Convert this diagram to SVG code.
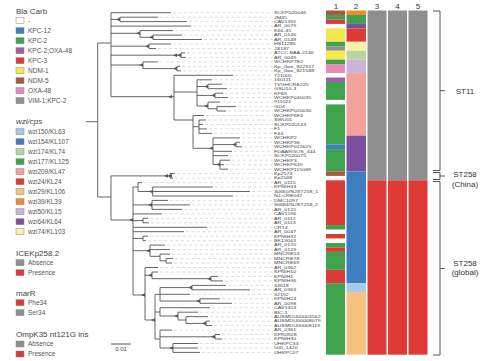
<svg xmlns="http://www.w3.org/2000/svg" xmlns:xlink="http://www.w3.org/1999/xlink" width="483" height="361" viewBox="0 0 483 361">
<style>
text{font-family:"Liberation Sans",Arial,sans-serif}
.hd{font-size:8px;fill:#444}
.it{font-size:6.5px;fill:#555}
.lb{font-size:3.8px;fill:#444}
.ch{font-size:8px;fill:#333;text-anchor:middle}
.br{font-size:8px;fill:#333;text-anchor:middle}
.sw{stroke:#888;stroke-width:0.5}
.tr{fill:none;stroke:#555;stroke-width:0.9}
.ld{fill:none;stroke:#c4c4c4;stroke-width:0.6;stroke-dasharray:3 2.5}
.bk{fill:none;stroke:#555;stroke-width:1}
</style>
<defs>
<path id="nm" d="M-4 0L0 -1.8V1.8Z" fill="#555"/>
</defs>
<rect width="483" height="361" fill="#fff"/>

<g id="legend-bla">
<text class="hd" x="16" y="13.5">Bla Carb</text>
<rect class="sw" x="16" y="17.7" width="8" height="6" fill="#fff"/><text class="it" x="28" y="23">-</text>
<rect class="sw" x="16" y="27.7" width="8" height="6" fill="#3d7ebf"/><text class="it" x="28" y="33">KPC-12</text>
<rect class="sw" x="16" y="37.7" width="8" height="6" fill="#3fa34d"/><text class="it" x="28" y="43">KPC-2</text>
<rect class="sw" x="16" y="47.7" width="8" height="6" fill="#9a5fa6"/><text class="it" x="28" y="53">KPC-2;OXA-48</text>
<rect class="sw" x="16" y="57.7" width="8" height="6" fill="#dc3a34"/><text class="it" x="28" y="63">KPC-3</text>
<rect class="sw" x="16" y="67.7" width="8" height="6" fill="#f3e94a"/><text class="it" x="28" y="73">NDM-1</text>
<rect class="sw" x="16" y="77.7" width="8" height="6" fill="#a65a3c"/><text class="it" x="28" y="83">NDM-5</text>
<rect class="sw" x="16" y="87.7" width="8" height="6" fill="#e889b8"/><text class="it" x="28" y="93">OXA-48</text>
<rect class="sw" x="16" y="97.7" width="8" height="6" fill="#8f8f8f"/><text class="it" x="28" y="103">VIM-1;KPC-2</text>
</g>

<g id="legend-wzi">
<text class="hd" x="16" y="123.5" font-style="italic">wzi/cps</text>
<rect class="sw" x="16" y="128.7" width="8" height="6" fill="#a6cbe6"/><text class="it" x="28" y="134">wzi150/KL63</text>
<rect class="sw" x="16" y="138.7" width="8" height="6" fill="#3d7ebf"/><text class="it" x="28" y="144">wzi154/KL107</text>
<rect class="sw" x="16" y="148.7" width="8" height="6" fill="#b5d69a"/><text class="it" x="28" y="154">wzi174/KL74</text>
<rect class="sw" x="16" y="158.7" width="8" height="6" fill="#3fa34d"/><text class="it" x="28" y="164">wzi177/KL125</text>
<rect class="sw" x="16" y="168.7" width="8" height="6" fill="#f2a29a"/><text class="it" x="28" y="174">wzi209/KL47</text>
<rect class="sw" x="16" y="178.7" width="8" height="6" fill="#dc3a34"/><text class="it" x="28" y="184">wzi24/KL24</text>
<rect class="sw" x="16" y="188.7" width="8" height="6" fill="#f6c282"/><text class="it" x="28" y="194">wzi29/KL106</text>
<rect class="sw" x="16" y="198.7" width="8" height="6" fill="#f08a2c"/><text class="it" x="28" y="204">wzi39/KL39</text>
<rect class="sw" x="16" y="208.7" width="8" height="6" fill="#c9b5d8"/><text class="it" x="28" y="214">wzi50/KL15</text>
<rect class="sw" x="16" y="218.7" width="8" height="6" fill="#7b4f9e"/><text class="it" x="28" y="224">wzi64/KL64</text>
<rect class="sw" x="16" y="228.7" width="8" height="6" fill="#f7f2a2"/><text class="it" x="28" y="234">wzi74/KL103</text>
</g>

<g id="legend-ice">
<text class="hd" x="16" y="255.5">ICEKp258.2</text>
<rect class="sw" x="16" y="259.7" width="8" height="6" fill="#8f8f8f"/><text class="it" x="28" y="265">Absence</text>
<rect class="sw" x="16" y="269.7" width="8" height="6" fill="#dc3a34"/><text class="it" x="28" y="275">Presence</text>
</g>
<g id="legend-marr">
<text class="hd" x="16" y="295.5">marR</text>
<rect class="sw" x="16" y="299.7" width="8" height="6" fill="#dc3a34"/><text class="it" x="28" y="305">Phe34</text>
<rect class="sw" x="16" y="309.7" width="8" height="6" fill="#8f8f8f"/><text class="it" x="28" y="315">Ser34</text>
</g>
<g id="legend-ompk">
<text class="hd" x="16" y="336.8">OmpK35 nt121G ins</text>
<rect class="sw" x="16" y="341" width="8" height="6" fill="#8f8f8f"/><text class="it" x="28" y="346.3">Absence</text>
<rect class="sw" x="16" y="351" width="8" height="6" fill="#dc3a34"/><text class="it" x="28" y="356.3">Presence</text>
</g>

<g id="connectors">
<path class="ld" d="M173 12.7H273M160 17.2H273M189 21.6H273M193 26.1H273M175 30.6H273M184 35.1H273M204 39.5H273M173 44H273M158 48.5H273M187 52.9H273M188 57.4H273M160 61.9H273M182 66.3H273M183 70.8H273M235 75.3H273M214 79.8H273M224 84.2H273M229 88.7H273M225 93.2H273M230 97.6H273M222 102.1H273M238 106.6H273M228 111H273M206 115.5H273M208 120H273M205 124.5H273M209 128.9H273M214 133.4H273M242 137.9H273M242 142.3H273M244 146.8H273M234 151.3H273M230 155.7H273M232 160.2H273M226 164.7H273M230 169.2H273M177 173.6H273M175 178.1H273M144 182.6H273M215 187H273M252 191.5H273M235 196H273M170 200.4H273M192 204.9H273M184 209.4H273M164 213.9H273M150 218.3H273M151 222.8H273M209 227.3H273M186 231.7H273M150 236.2H273M148 240.7H273M167 245.1H273M172 249.6H273M172 254.1H273M175 258.6H273M174 263H273M160 267.5H273M160 272H273M220 276.4H273M225 280.9H273M228 285.4H273M252 289.8H273M192 294.3H273M222 298.8H273M234 303.3H273M212 307.7H273M200 312.2H273M210 316.7H273M212 321.1H273M214 325.6H273M174 330.1H273M222 334.5H273M224 339H273M200 343.5H273M200 348H273M202 352.4H273"/>
<path class="tr" d="M86 121.7H97.7M97.7 43V197M97.7 43H111M97.7 197H111
M111 12.7V96.7M111 12.7H171
M111 19.4H120M120 17.2V21.6M120 17.2H158M120 21.6H187
M111 26.1H191
M111 33.3H140M140 30.6V37.3M140 30.6H173M140 37.3H153M153 35.1V39.5M153 35.1H182M153 39.5H202
M111 46.2H149M149 44V48.5M149 44H171M149 48.5H156
M111 55.2H181M181 52.9V57.4M181 52.9H185M181 57.4H186
M111 65H143M143 61.9V68.6M143 61.9H158M143 68.6H177M177 66.3V70.8M177 66.3H180M177 70.8H181
M111 96.7H174
M174 75.3V120M174 75.3H233
M174 92H197M197 79.8V106M197 79.8H212
M197 86.5H208M208 84.2V88.7M208 84.2H222M208 88.7H227
M197 95.4H215M215 93.2V97.6M215 93.2H223M215 97.6H228
M197 106H208M208 102.1V108.8M208 102.1H220M208 108.8H217M217 106.6V111M217 106.6H236M217 111H226
M174 120H193M193 115.5V148.3M193 115.5H204
M193 126.7H199M199 120V133.4M199 120H206M199 124.5H203M199 128.9H207M199 133.4H212
M193 148.3H213M213 137.9V164.5M213 137.9H240
M213 144.6H236M236 142.3V146.8M236 142.3H240M236 146.8H242
M213 151.3H232M213 155.7H228
M213 164.5H220M220 160.2V169.2M220 160.2H230M220 164.7H224M220 169.2H228
M111 175.9V220M111 175.9H170M170 173.6V178.1M170 173.6H175M170 178.1H173
M111 220H133M133 187V295
M133 187H138M138 182.6V191.5M138 182.6H142M138 191.5H152.7M152.7 187V196M152.7 187H213M152.7 191.5H250M152.7 196H233
M133 204.9H152M152 200.4V209.4M152 200.4H168M152 204.9H190M152 209.4H182
M133 213.9H162
M133 220.6H143M143 218.3V222.8M143 218.3H148M143 222.8H149
M133 227.3H207M133 231.7H184
M133 238.4H143M143 236.2V240.7M143 236.2H148M143 240.7H146
M133 250.7H150M150 245.1V256.3M150 245.1H165M150 249.6H170M150 256.3H160M160 254.1V260.8M160 254.1H170M160 260.8H166M166 258.6V263M166 258.6H173M166 263H172
M133 295H145M145 267.5V320M145 267.5H158
M145 275.3H152M152 272V278.7M152 272H158M152 278.7H211M211 276.4V280.9M211 276.4H218M211 280.9H223
M145 320H155M155 294.3V339
M155 294.3H160M160 287.6V301M160 287.6H192M192 285.4V289.8M192 285.4H226M192 289.8H250M160 294.3H190M160 301H200M200 298.8V303.3M200 298.8H220M200 303.3H232
M155 312H160M160 307.7V316M160 307.7H210M160 316H178M178 312.2V320M178 312.2H198M178 320H186M186 316.7V323.4M186 316.7H208M186 323.4H206M206 321.1V325.6M206 321.1H210M206 325.6H212
M155 339H160M160 330.1V348M160 330.1H172M160 336.8H215M215 334.5V339M215 334.5H220M215 339H222M160 348H173M173 343.5V352.4M173 343.5H198M173 348H198M173 352.4H200"/>
<use href="#nm" x="120" y="19.4"/><use href="#nm" x="140" y="33.3"/><use href="#nm" x="153" y="37.3"/><use href="#nm" x="149" y="46.2"/>
<use href="#nm" x="177" y="55.2"/><use href="#nm" x="181" y="55.2"/><use href="#nm" x="143" y="65"/><use href="#nm" x="177" y="68.6"/>
<use href="#nm" x="172" y="96.7"/><use href="#nm" x="208" y="86.5"/><use href="#nm" x="215" y="95.4"/><use href="#nm" x="208" y="106"/>
<use href="#nm" x="213" y="148.3"/><use href="#nm" x="236" y="144.6"/><use href="#nm" x="220" y="164.5"/><use href="#nm" x="168" y="175.9"/><use href="#nm" x="172" y="175.9"/>
<use href="#nm" x="133" y="220"/><use href="#nm" x="152.7" y="191.5"/><use href="#nm" x="152" y="204.9"/><use href="#nm" x="150" y="250.7"/>
<use href="#nm" x="145" y="295"/><use href="#nm" x="152" y="275.3"/><use href="#nm" x="211" y="278.7"/><use href="#nm" x="155" y="320"/>
<use href="#nm" x="192" y="287.6"/><use href="#nm" x="200" y="301"/><use href="#nm" x="178" y="316"/><use href="#nm" x="206" y="323.4"/><use href="#nm" x="215" y="336.8"/><use href="#nm" x="173" y="348"/>
</g>

<g id="taxa" transform="translate(274,0) scale(1.4,1)">
<text class="lb" x="0" y="14.1">SCKP020046</text>
<text class="lb" x="0" y="18.6">JM45</text>
<text class="lb" x="0" y="23">CAV1392</text>
<text class="lb" x="0" y="27.5">AR_0079</text>
<text class="lb" x="0" y="32">K66-45</text>
<text class="lb" x="0" y="36.5">AR_0146</text>
<text class="lb" x="0" y="40.9">AR_0148</text>
<text class="lb" x="0" y="45.4">HS11286</text>
<text class="lb" x="0" y="49.9">JS187</text>
<text class="lb" x="0" y="54.3">ATCC BAA-2146</text>
<text class="lb" x="0" y="58.8">AR_0049</text>
<text class="lb" x="0" y="63.3">WCHKP7E2</text>
<text class="lb" x="0" y="67.7">Kp_Goe_822917</text>
<text class="lb" x="0" y="72.2">Kp_Goe_821588</text>
<text class="lb" x="0" y="76.7">721005</text>
<text class="lb" x="0" y="81.2">160111</text>
<text class="lb" x="0" y="85.6">TVGHCRE225</text>
<text class="lb" x="0" y="90.1">GSU10-3</text>
<text class="lb" x="0" y="94.6">KP69</text>
<text class="lb" x="0" y="99">WCHKP040035</text>
<text class="lb" x="0" y="103.5">911021</text>
<text class="lb" x="0" y="108">GD4</text>
<text class="lb" x="0" y="112.4">WCHKP020030</text>
<text class="lb" x="0" y="116.9">WCHKP6F4</text>
<text class="lb" x="0" y="121.4">SWU01</text>
<text class="lb" x="0" y="125.9">SCKP020143</text>
<text class="lb" x="0" y="130.3">F1</text>
<text class="lb" x="0" y="134.8">F44</text>
<text class="lb" x="0" y="139.3">WCHKP2</text>
<text class="lb" x="0" y="143.7">WCHKP36</text>
<text class="lb" x="0" y="148.2">WCHKP015625</text>
<text class="lb" x="0" y="152.7">FDAARGOS_444</text>
<text class="lb" x="0" y="157.1">SCKP020075</text>
<text class="lb" x="0" y="161.6">WCHKP3</text>
<text class="lb" x="0" y="166.1">WCHKP649</text>
<text class="lb" x="0" y="170.6">WCHKP115069</text>
<text class="lb" x="0" y="175">Kp2573</text>
<text class="lb" x="0" y="179.5">Kp2568</text>
<text class="lb" x="0" y="184">AR_0115</text>
<text class="lb" x="0" y="188.4">KPNIH33</text>
<text class="lb" x="0" y="192.9">30660/NJST258_1</text>
<text class="lb" x="0" y="197.4">NJ-CRE047</text>
<text class="lb" x="0" y="201.8">DMC1097</text>
<text class="lb" x="0" y="206.3">30684/NJST258_2</text>
<text class="lb" x="0" y="210.8">AR_0125</text>
<text class="lb" x="0" y="215.3">CAV1596</text>
<text class="lb" x="0" y="219.7">AR_0112</text>
<text class="lb" x="0" y="224.2">AR_0113</text>
<text class="lb" x="0" y="228.7">CRT4</text>
<text class="lb" x="0" y="233.1">AR_0047</text>
<text class="lb" x="0" y="237.6">KPNIH32</text>
<text class="lb" x="0" y="242.1">BK13043</text>
<text class="lb" x="0" y="246.5">AR_0120</text>
<text class="lb" x="0" y="251">AR_0129</text>
<text class="lb" x="0" y="255.5">MNCRE53</text>
<text class="lb" x="0" y="260">MNCRE78</text>
<text class="lb" x="0" y="264.4">MNCRE69</text>
<text class="lb" x="0" y="268.9">AR_0362</text>
<text class="lb" x="0" y="273.4">KPNIH10</text>
<text class="lb" x="0" y="277.8">KPNIH1</text>
<text class="lb" x="0" y="282.3">KPNIH36</text>
<text class="lb" x="0" y="286.8">34618</text>
<text class="lb" x="0" y="291.2">AR_0363</text>
<text class="lb" x="0" y="295.7">32192</text>
<text class="lb" x="0" y="300.2">KPNIH24</text>
<text class="lb" x="0" y="304.7">AR_0098</text>
<text class="lb" x="0" y="309.1">CAV1453</text>
<text class="lb" x="0" y="313.6">BIC-1</text>
<text class="lb" x="0" y="318.1">AUSMDU00003562</text>
<text class="lb" x="0" y="322.5">AUSMDU00008079</text>
<text class="lb" x="0" y="327">AUSMDU00008119</text>
<text class="lb" x="0" y="331.5">AR_0361</text>
<text class="lb" x="0" y="335.9">KPR0928</text>
<text class="lb" x="0" y="340.4">KPNIH30</text>
<text class="lb" x="0" y="344.9">UHKPC33</text>
<text class="lb" x="0" y="349.4">500_1420</text>
<text class="lb" x="0" y="353.8">UHKPC07</text>
</g>

<g id="col1">
<text class="ch" x="336" y="8.5">1</text>
<rect x="326" y="10.5" width="19" height="4.47" fill="#a65a3c"/>
<rect x="326" y="14.97" width="19" height="4.47" fill="#3fa34d"/>
<rect x="326" y="19.44" width="19" height="4.47" fill="#dc3a34"/>
<rect x="326" y="28.38" width="19" height="13.41" fill="#f3e94a"/>
<rect x="326" y="41.79" width="19" height="4.47" fill="#3fa34d"/>
<rect x="326" y="46.26" width="19" height="4.47" fill="#8f8f8f"/>
<rect x="326" y="50.73" width="19" height="8.94" fill="#f3e94a"/>
<rect x="326" y="59.67" width="19" height="4.47" fill="#3fa34d"/>
<rect x="326" y="64.14" width="19" height="8.94" fill="#e889b8"/>
<rect x="326" y="77.55" width="19" height="4.47" fill="#9a5fa6"/>
<rect x="326" y="82.02" width="19" height="17.88" fill="#3fa34d"/>
<rect x="326" y="104.37" width="19" height="40.23" fill="#3fa34d"/>
<rect x="326" y="144.6" width="19" height="4.47" fill="#3d7ebf"/>
<rect x="326" y="149.07" width="19" height="22.35" fill="#3fa34d"/>
<rect x="326" y="171.42" width="19" height="4.47" fill="#a65a3c"/>
<rect x="326" y="180.36" width="19" height="44.7" fill="#dc3a34"/>
<rect x="326" y="225.06" width="19" height="4.47" fill="#3fa34d"/>
<rect x="326" y="234" width="19" height="4.47" fill="#dc3a34"/>
<rect x="326" y="242.94" width="19" height="4.47" fill="#3fa34d"/>
<rect x="326" y="247.41" width="19" height="4.47" fill="#dc3a34"/>
<rect x="326" y="251.88" width="19" height="17.88" fill="#3fa34d"/>
<rect x="326" y="269.76" width="19" height="13.41" fill="#dc3a34"/>
<rect x="326" y="283.17" width="19" height="71.52" fill="#3fa34d"/>
</g>

<g id="col2">
<text class="ch" x="356" y="8.5">2</text>
<rect x="346.5" y="10.5" width="19.5" height="4.47" fill="#f08a2c"/>
<rect x="346.5" y="14.97" width="19.5" height="8.94" fill="#3fa34d"/>
<rect x="346.5" y="23.91" width="19.5" height="4.47" fill="#7b4f9e"/>
<rect x="346.5" y="28.38" width="19.5" height="13.41" fill="#dc3a34"/>
<rect x="346.5" y="41.79" width="19.5" height="8.94" fill="#f7f2a2"/>
<rect x="346.5" y="50.73" width="19.5" height="8.94" fill="#b5d69a"/>
<rect x="346.5" y="59.67" width="19.5" height="13.41" fill="#c9b5d8"/>
<rect x="346.5" y="73.08" width="19.5" height="62.58" fill="#f2a29a"/>
<rect x="346.5" y="135.66" width="19.5" height="35.76" fill="#7b4f9e"/>
<rect x="346.5" y="171.42" width="19.5" height="111.75" fill="#3d7ebf"/>
<rect x="346.5" y="283.17" width="19.5" height="8.94" fill="#a6cbe6"/>
<rect x="346.5" y="292.11" width="19.5" height="62.58" fill="#f6c282"/>
</g>

<g id="col3">
<text class="ch" x="377" y="8.5">3</text>
<rect x="367.5" y="10.5" width="19" height="169.86" fill="#8f8f8f"/>
<rect x="367.5" y="180.36" width="19" height="174.33" fill="#df3a36"/>
</g>
<g id="col4">
<text class="ch" x="397.5" y="8.5">4</text>
<rect x="388" y="10.5" width="19" height="169.86" fill="#8f8f8f"/>
<rect x="388" y="180.36" width="19" height="174.33" fill="#df3a36"/>
</g>
<g id="col5">
<text class="ch" x="418" y="8.5">5</text>
<rect x="408.5" y="10.5" width="19" height="169.86" fill="#8f8f8f"/>
<rect x="408.5" y="180.36" width="19" height="174.33" fill="#df3a36"/>
</g>

<g id="st11">
<path class="bk" d="M433 11H440V170.5H433M440 90.7H445"/>
<text class="br" x="465" y="93.5">ST11</text>
</g>
<g id="st258-china">
<path class="bk" d="M433 172.5H440V179.5H433M440 176H445"/>
<text class="br" x="465" y="177">ST258</text>
<text class="br" x="465" y="187">(China)</text>
</g>
<g id="st258-global">
<path class="bk" d="M433 181.5H440V355H433M440 268.5H445"/>
<text class="br" x="465" y="266">ST258</text>
<text class="br" x="465" y="274.5">(global)</text>
</g>

<g id="scale">
<path class="bk" d="M111 344H131" stroke-width="0.8"/>
<text x="121" y="351" font-size="6" fill="#444" text-anchor="middle">0.01</text>
</g>
</svg>
